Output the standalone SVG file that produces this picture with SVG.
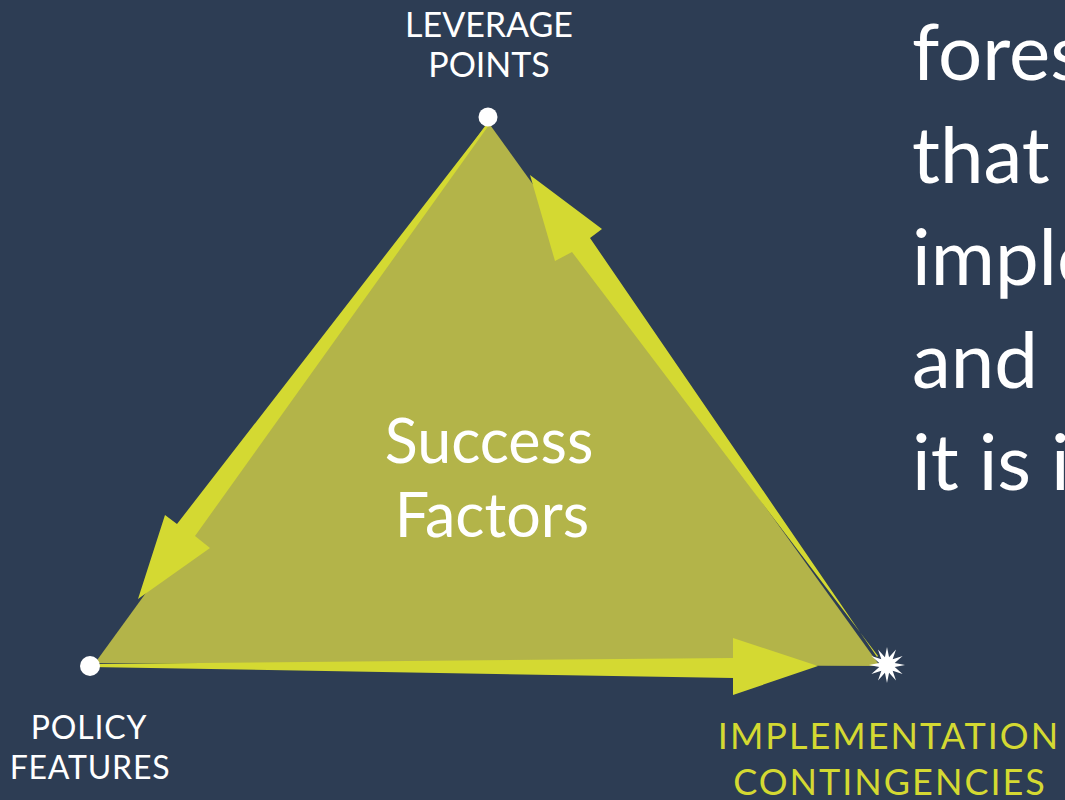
<svg xmlns="http://www.w3.org/2000/svg" width="1065" height="800" viewBox="0 0 1065 800">
  <style>
    .lbl { font-family: Lato, "Open Sans", "Liberation Sans", sans-serif; text-anchor: middle; }
    .white { fill: #ffffff; }
    .yel { fill: #d4d932; }
    .big { font-family: Futura, "Century Gothic", Lato, "Liberation Sans", sans-serif; fill: #ffffff; font-size: 78px; }
    .arrow { fill: #d4d932; }
  </style>
  <rect x="0" y="0" width="1065" height="800" fill="#2d3d54"/>

  <g id="success-factors">
    <polygon points="488,122 880,666 95,663" fill="#b3b449"/>
    <text class="lbl white" x="489" y="463" font-size="61">Success</text>
    <text class="lbl white" x="492" y="537" font-size="61">Factors</text>
  </g>

  <g id="connectors">
    <polygon class="arrow" points="487,124 177,524 165,515 138,599 210,548 195,536 489,125"/>
    <polygon class="arrow" points="877,657 590,238 602,229 530,175 555,261 572,252 878,656"/>
    <polygon class="arrow" points="90,664 733,658 733,638 818,666 733,695 733,678 90,667"/>
  </g>

  <g id="leverage-points">
    <circle cx="488" cy="117" r="9.5" fill="#ffffff"/>
    <text class="lbl white" font-size="34"><tspan x="489" y="37">LEVERAGE</tspan><tspan x="489" y="77">POINTS</tspan></text>
  </g>

  <g id="policy-features">
    <circle cx="90" cy="666" r="10" fill="#ffffff"/>
    <text class="lbl white" font-size="32" letter-spacing="0.8"><tspan x="89" y="739">POLICY</tspan><tspan x="90" y="779">FEATURES</tspan></text>
  </g>

  <g id="implementation-contingencies">
    <polygon fill="#ffffff" transform="translate(887,665)" points="0,-18 2.07,-7.73 9,-15.59 5.66,-5.66 15.59,-9 7.73,-2.07 18,0 7.73,2.07 15.59,9 5.66,5.66 9,15.59 2.07,7.73 0,18 -2.07,7.73 -9,15.59 -5.66,5.66 -15.59,9 -7.73,2.07 -18,0 -7.73,-2.07 -15.59,-9 -5.66,-5.66 -9,-15.59 -2.07,-7.73"/>
    <text class="lbl yel" font-size="36" letter-spacing="2"><tspan x="889" y="749">IMPLEMENTATION</tspan><tspan x="890" y="795">CONTINGENCIES</tspan></text>
  </g>

  <g id="side-text">
    <text class="big" x="912" y="80">fores</text>
    <text class="big" x="912" y="183">that</text>
    <text class="big" x="912" y="285">imple</text>
    <text class="big" x="912" y="388">and</text>
    <text class="big" x="912" y="490">it is i</text>
  </g>
</svg>
